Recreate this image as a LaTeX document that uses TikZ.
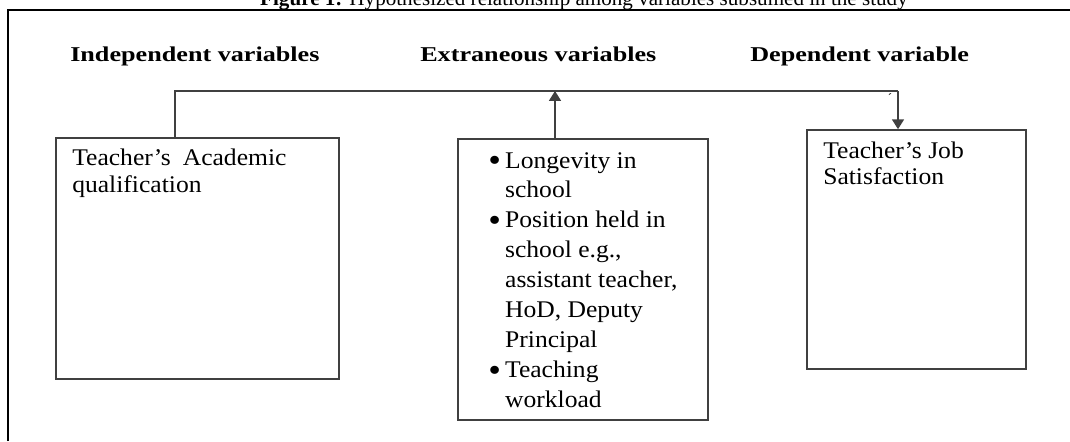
\documentclass[tikz,border=0pt]{standalone}
\usepackage{fontspec}
\setmainfont{Liberation Serif}
\newfontfamily\headfont{Liberation Serif}[FakeStretch=1.24]
\newfontfamily\bodyfont{Liberation Serif}[FakeStretch=1.07]
\usetikzlibrary{arrows.meta}
\newcommand{\bul}{\raisebox{-2.5pt}{\fontsize{24}{20}\selectfont\textbullet}}

\begin{document}
\begin{tikzpicture}[x=0.025cm,y=-0.025cm,
  box/.style={draw=black!75,line width=1.1pt,inner sep=0pt},
  conn/.style={draw=black!75,line width=1.1pt},
  tip/.style={-{Triangle[length=7pt,width=8.5pt]}},
  head/.style={anchor=base west,inner sep=0pt,font=\headfont\bfseries\fontsize{15}{18}\selectfont},
  txt/.style={anchor=base west,inner sep=0pt,font=\bodyfont\fontsize{17}{19.2}\selectfont}]
\useasboundingbox (0,0) rectangle (1070,441);
\clip (0,0) rectangle (1070,441);
% caption, only its lower half shows
\node[anchor=base,inner sep=0pt,font=\fontsize{15}{17}\selectfont] (cap) at (584,5)
  {\textbf{Figure 1:} Hypothesized relationship among variables subsumed in the study};
% frame
\draw[line width=1.6pt] (8,441) -- (8,10) -- (1070,10);
% column headings
\foreach \n/\x/\t in {indephd/70/Independent variables,
                      exthd/420/Extraneous variables,
                      dephd/750/Dependent variable}
  \node[head] (\n) at (\x,61) {\t};
% boxes
\node[box,minimum width=7.075cm,minimum height=6.025cm] (indep) at (197.5,258.5) {};
\node[box,minimum width=6.25cm,minimum height=7.025cm] (ext) at (583,279.5) {};
\node[box,minimum width=5.475cm,minimum height=5.975cm] (dep) at (916.5,249.5) {};
% box texts
\node[txt] (indeptxt) at (72,165)
  {\begin{tabular}[t]{@{}l@{}}Teacher’s\hspace{0.5em}Academic\\qualification\end{tabular}};
\node[txt,font=\bodyfont\fontsize{17}{21.3}\selectfont] (exttxt) at (488,168)
  {\begin{tabular}[t]{@{}l@{\hspace{3pt}}l@{}}
  \bul & Longevity in\\ & school\\
  \bul & Position held in\\ & school e.g.,\\ & assistant teacher,\\
       & HoD, Deputy\\ & Principal\\
  \bul & Teaching\\ & workload
  \end{tabular}};
\node[txt,font=\bodyfont\fontsize{17}{18.5}\selectfont] (deptxt) at (823,158)
  {\begin{tabular}[t]{@{}l@{}}Teacher’s Job\\Satisfaction\end{tabular}};
% connectors
\coordinate (busL) at (175,91);
\coordinate (busM) at (555,91);
\coordinate (busR) at (898,91);
\draw[conn] (indep.north -| busL) -- (busL) -- (busR);
\draw[conn,tip] (busR) -- (busR |- dep.north);
\draw[conn,tip] (busM |- ext.north) -- (busM);
\node[inner sep=0pt,font=\fontsize{9}{9}\selectfont] (tick) at (890,98) {´};
\end{tikzpicture}
\end{document}
